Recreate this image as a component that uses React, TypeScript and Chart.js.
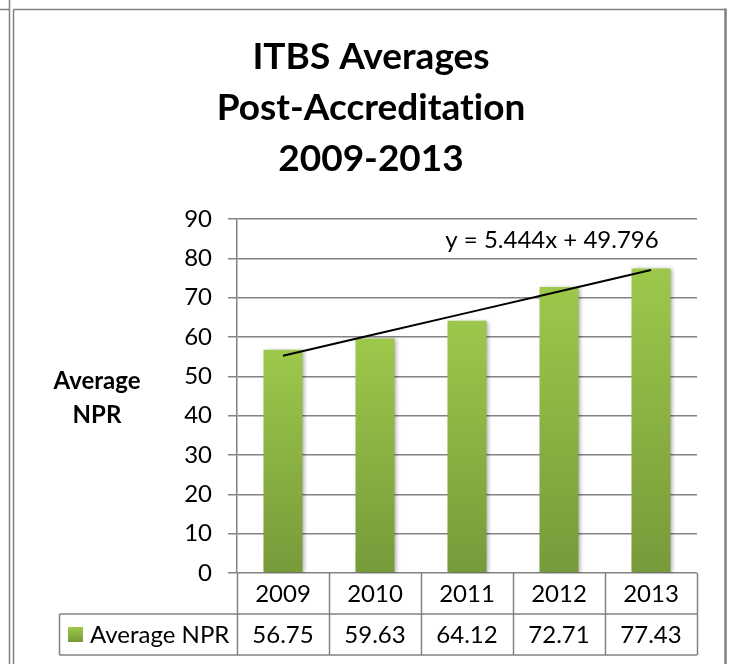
import React, { useEffect, useRef } from "react";
import { Chart, registerables } from "chart.js";

Chart.register(...registerables);

// ---- data ----
const years = ["2009", "2010", "2011", "2012", "2013"];
const averageNpr = [56.75, 59.63, 64.12, 72.71, 77.43];
const trendValues = [55.24, 60.68, 66.13, 71.57, 77.02];
const titleLines = ["ITBS Averages", "Post-Accreditation", "2009-2013"];
const yAxisTitleLines = ["Average", "NPR"];
const seriesName = "Average NPR";
const trendEquation = "y = 5.444x + 49.796";
const yMin = 0;
const yMax = 90;
const yStep = 10;

const FONT = "Lato, 'Open Sans', 'DejaVu Sans', sans-serif";
const GRID = "#828282";

function barGradient(ctx: CanvasRenderingContext2D, top: number, bottom: number) {
  const g = ctx.createLinearGradient(0, top, 0, bottom);
  g.addColorStop(0, "#9dc84b");
  g.addColorStop(1, "#779a3a");
  return g;
}

function noLig(ctx: any) {
  try {
    ctx.textRendering = "optimizeSpeed";
  } catch (e) {}
}

const decorPlugin = {
  id: "decor",
  beforeDraw(chart: any) {
    const ctx: CanvasRenderingContext2D = chart.ctx;
    const W = chart.width;
    const H = chart.height;
    ctx.save();
    ctx.fillStyle = "#ffffff";
    ctx.fillRect(0, 0, W, H);
    // frame lines
    ctx.strokeStyle = "#808080";
    ctx.lineWidth = 1.5;
    ctx.beginPath();
    ctx.moveTo(9.5, 0);
    ctx.lineTo(9.5, H);
    ctx.moveTo(13.5, 9.5);
    ctx.lineTo(13.5, H);
    ctx.moveTo(0, 9.5);
    ctx.lineTo(9.5, 9.5);
    ctx.moveTo(13.5, 9.5);
    ctx.lineTo(725, 9.5);
    ctx.stroke();
    ctx.lineWidth = 2.5;
    ctx.beginPath();
    ctx.moveTo(725.5, 8.5);
    ctx.lineTo(725.5, H);
    ctx.stroke();

    // title
    noLig(ctx);
    ctx.fillStyle = "#000";
    ctx.textAlign = "center";
    ctx.textBaseline = "alphabetic";
    ctx.font = `bold 37px ${FONT}`;
    titleLines.forEach((t, i) => ctx.fillText(t, 371, 69 + i * 51));

    // y axis title
    ctx.font = `bold 24px ${FONT}`;
    yAxisTitleLines.forEach((t, i) => ctx.fillText(t, 97, 389 + i * 34));
    ctx.restore();
  },
  beforeDatasetDraw(chart: any, args: any) {
    if (args.meta.type === "bar") {
      const ctx = chart.ctx;
      ctx.save();
      ctx.shadowColor = "rgba(0,0,0,0.35)";
      ctx.shadowBlur = 4;
      ctx.shadowOffsetX = 2;
      ctx.shadowOffsetY = 1;
    }
  },
  afterDatasetDraw(chart: any, args: any) {
    if (args.meta.type === "bar") {
      chart.ctx.restore();
    }
  },
  afterDraw(chart: any) {
    const ctx: CanvasRenderingContext2D = chart.ctx;
    const area = chart.chartArea;
    const x = chart.scales.x;
    const n = years.length;
    const cw = (area.right - area.left) / n;
    const rowH = 41;
    const top = area.bottom;
    const mid = top + rowH;
    const bot = mid + rowH;
    const legendLeft = 59.5;

    ctx.save();
    ctx.strokeStyle = GRID;
    ctx.lineWidth = 1.5;
    ctx.beginPath();
    ctx.moveTo(legendLeft, mid);
    ctx.lineTo(area.right, mid);
    ctx.moveTo(legendLeft, bot);
    ctx.lineTo(area.right, bot);
    for (let i = 0; i <= n; i++) {
      const px = Math.round(area.left + i * cw) + 0.5;
      ctx.moveTo(px, top);
      ctx.lineTo(px, bot);
    }
    ctx.moveTo(legendLeft, mid);
    ctx.lineTo(legendLeft, bot);
    ctx.stroke();

    noLig(ctx);
    ctx.fillStyle = "#000";
    ctx.font = `24px ${FONT}`;
    ctx.textAlign = "center";
    ctx.textBaseline = "middle";
    years.forEach((yr, i) => {
      const cx = x.getPixelForValue(i);
      ctx.fillText(yr, cx, top + rowH / 2 + 1);
      ctx.fillText(averageNpr[i].toFixed(2), cx, mid + rowH / 2 + 1);
    });

    // legend key
    ctx.fillStyle = barGradient(ctx, mid + 13, mid + 28);
    ctx.fillRect(68, mid + 13, 15, 15);
    ctx.fillStyle = "#000";
    ctx.textAlign = "left";
    ctx.fillText(seriesName, 90, mid + rowH / 2 + 1);

    // trendline equation
    ctx.textAlign = "center";
    ctx.textBaseline = "alphabetic";
    ctx.fillText(trendEquation, 552, 248);
    ctx.restore();
  },
};

export default function App() {
  const ref = useRef<HTMLCanvasElement | null>(null);

  useEffect(() => {
    if (!ref.current) return;
    const chart = new Chart(ref.current, {
      type: "bar",
      data: {
        labels: years,
        datasets: [
          {
            type: "bar",
            label: seriesName,
            data: averageNpr,
            order: 1,
            barPercentage: 1 / 2.36,
            categoryPercentage: 1,
            backgroundColor: (c: any) => {
              const chart = c.chart;
              if (!chart.chartArea || !chart.scales.y) return "#8db446";
              const ys = chart.scales.y;
              const v = averageNpr[c.dataIndex] ?? 0;
              return barGradient(chart.ctx, ys.getPixelForValue(v), ys.getPixelForValue(0));
            },
            borderWidth: 0,
          },
          {
            type: "line",
            label: "Trend",
            data: trendValues,
            order: 0,
            borderColor: "#000",
            borderWidth: 2,
            pointRadius: 0,
            fill: false,
            tension: 0,
          },
        ],
      },
      options: {
        responsive: false,
        animation: false,
        devicePixelRatio: 1,
        layout: { padding: { top: 219, right: 33, bottom: 91, left: 0 } },
        plugins: {
          legend: { display: false },
          title: { display: false },
          tooltip: { enabled: false },
        },
        scales: {
          x: { display: false },
          y: {
            min: yMin,
            max: yMax,
            ticks: {
              stepSize: yStep,
              color: "#000",
              font: { family: FONT, size: 24 },
              padding: 16,
            },
            grid: { color: GRID, lineWidth: 1.5, tickLength: 9, drawTicks: true },
            border: { color: GRID, width: 1.5 },
            afterFit: (scale: any) => {
              scale.width = 237;
            },
          },
        },
      },
      plugins: [decorPlugin],
    } as any);
    return () => chart.destroy();
  }, []);

  return (
    <div style={{ position: "absolute", left: 0, top: 0, width: 730, height: 664 }}>
      <canvas ref={ref} width={730} height={664} style={{ display: "block", width: 730, height: 664 }} />
    </div>
  );
}
